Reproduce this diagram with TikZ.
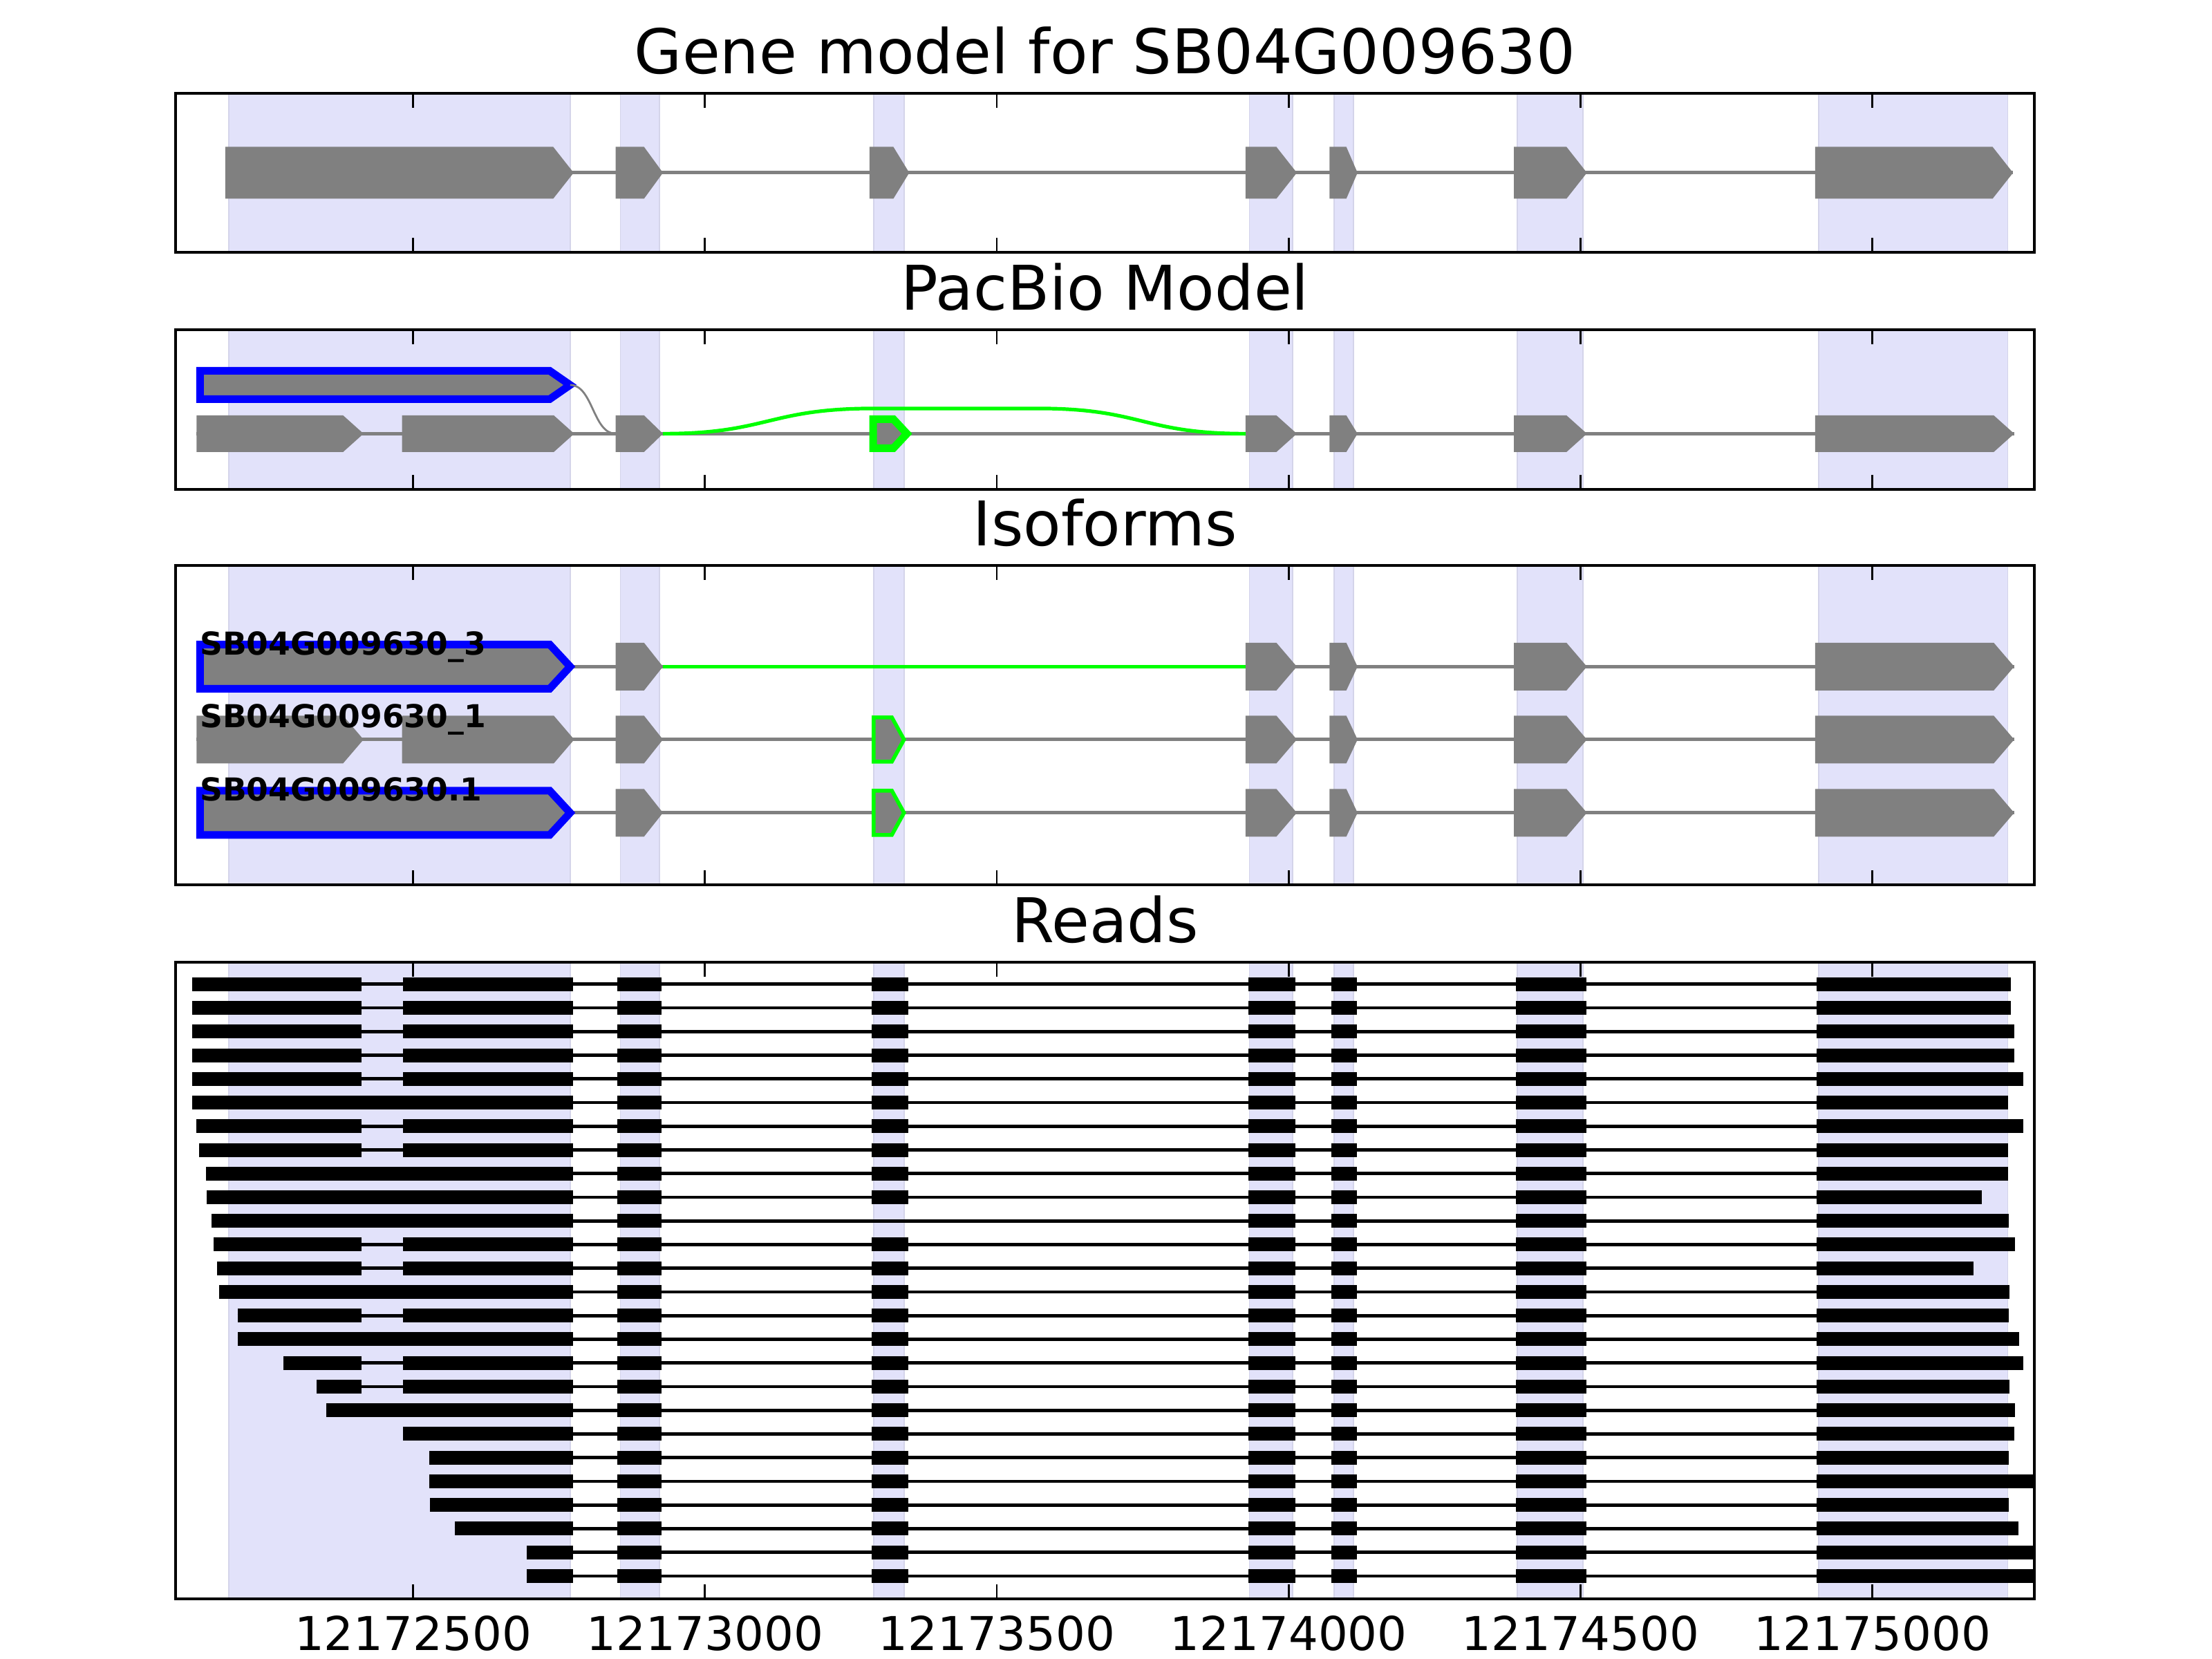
\documentclass[tikz,border=0pt]{standalone}
\usepackage{fontspec}
\setmainfont{DejaVu Sans}
\definecolor{exongrey}{RGB}{128,128,128}
\definecolor{spanfill}{RGB}{226,226,250}
\definecolor{spanedge}{RGB}{212,212,234}
\definecolor{isoblue}{RGB}{0,0,255}
\definecolor{isogreen}{RGB}{0,255,0}
% exon arrow: [style] start, tip, y centre, half height
\newcommand{\exon}[5][]{%
  \path[exonbox,#1] (#2,#4-#5) -- ({#3-min(35,0.4*(#3-#2))},#4-#5) -- (#3,#4)
    -- ({#3-min(35,0.4*(#3-#2))},#4+#5) -- (#2,#4+#5) -- cycle;}

\begin{document}
\begin{tikzpicture}[x=0.004222cm,y=-0.005cm,
  exonbox/.style={fill=exongrey},
  intron/.style={draw=exongrey, line width=0.025cm},
  vspan/.style={fill=spanfill, draw=spanedge, line width=0.008cm},
  axisframe/.style={draw=black, line width=0.02cm},
  tickmark/.style={draw=black, line width=0.014cm},
  paneltitle/.style={font=\fontsize{12.7}{15}\selectfont, anchor=base},
  ticklabel/.style={font=\fontsize{9.6}{11}\selectfont, anchor=base},
  isolabel/.style={font=\fontsize{6.5}{8}\selectfont\bfseries, anchor=base west, inner sep=0pt},
  readblock/.style={fill=black},
  readline/.style={draw=black, line width=0.024cm},
  blueedge/.style={draw=isoblue, line width=0.055cm},
  greenedge/.style={draw=isogreen, line width=0.055cm},
  thingreen/.style={draw=isogreen, line width=0.0275cm},
  junction/.style={draw=isogreen, line width=0.026cm},
]
\useasboundingbox (-207.8,0) rectangle (3581.9,2400);
% ---------------- exon spans ----------------
\foreach \top/\bot in {135/365, 477/708, 818/1280, 1392/2313}
  \foreach \a/\b in {184/769, 855/922, 1289/1341, 1933/2007, 2078/2111, 2392/2504, 2908/3232}
    \path[vspan] (\a,\top) rectangle (\b,\bot);
% ---------------- gene model ----------------
\node[paneltitle] (t1) at (1685.5,107) {Gene model for SB04G009630};
\draw[intron] (178,250) -- (3241,250);
\foreach \s/\e in {178/775, 847/928, 1282/1350, 1926/2014, 2070/2118, 2386/2511, 2902/3241}
  \exon{\s}{\e}{250}{37.5};
% ---------------- pacbio model ----------------
\node[paneltitle] (t2) at (1685.5,449) {PacBio Model};
\exon[blueedge]{135}{769}{557}{20.5}
\draw[intron, line width=0.014cm] (769,557) .. controls (808,557) and (808,627.5) .. (847,627.5);
\draw[intron] (129,627.5) -- (3243,627.5);
\foreach \s/\e in {129/415, 481/776, 847/928, 1926/2014, 2070/2118, 2386/2511, 2902/3243}
  \exon{\s}{\e}{627.5}{26.5};
\exon[greenedge]{1288}{1346}{627.5}{21}
\draw[junction] (928,627.5) .. controls (1108,627.5) and (1108,591) .. (1289,591) -- (1571,591)
  .. controls (1749,591) and (1749,627.5) .. (1926,627.5);
% ---------------- isoforms ----------------
\node[paneltitle] (t3) at (1685.5,790) {Isoforms};
\foreach \ry in {964.5,1070,1176}{
  \draw[intron] (129,\ry) -- (3243,\ry);
  \foreach \s/\e in {847/928, 1926/2014, 2070/2118, 2386/2511, 2902/3243}
    \exon{\s}{\e}{\ry}{34.5};
}
\draw[junction] (928,964.5) -- (1926,964.5);
\exon[blueedge]{135}{769}{964.5}{32}
\exon[blueedge]{135}{769}{1176}{32}
\exon{129}{415}{1070}{34.5}
\exon{481}{776}{1070}{34.5}
\exon[thingreen]{1289}{1341}{1070}{32}
\exon[thingreen]{1289}{1341}{1176}{32}
\node[isolabel] (iso3) at (133,947.5) {SB04G009630\_3};
\node[isolabel] (iso1) at (133,1053) {SB04G009630\_1};
\node[isolabel] (isoref) at (133,1159) {SB04G009630.1};
% ---------------- reads ----------------
\node[paneltitle] (t4) at (1685.5,1364) {Reads};
\begin{scope}
\clip (93,1392) rectangle (3278,2313);
\foreach \L/\R/\split/\skip [count=\i from 0] in {
    121/3237/1/0, 121/3237/1/0, 121/3243/1/0, 122/3243/1/0, 122/3259/1/0,
    122/3233/0/0, 128/3259/1/0, 133/3233/1/0, 145/3233/0/0, 146/3188/0/0,
    154/3234/0/1, 158/3244/1/0, 164/3173/1/0, 168/3235/0/0, 199/3234/1/0,
    199/3251/0/0, 278/3259/1/0, 335/3235/1/0, 351/3244/0/0, 483/3243/0/0,
    528/3234/0/0, 528/3300/0/0, 529/3234/0/0, 571/3250/0/0, 695/3300/0/0,
    695/3300/0/0}{
  \pgfmathsetmacro{\ry}{1424+34.25*\i}
  \draw[readline] (\L,\ry) -- (\R,\ry);
  \ifnum\split=1
    \fill[readblock] (\L,\ry-10) rectangle (412,\ry+10);
    \fill[readblock] (483,\ry-10) rectangle (774,\ry+10);
  \else
    \fill[readblock] (\L,\ry-10) rectangle (774,\ry+10);
  \fi
  \ifnum\skip=0 \fill[readblock] (1286,\ry-10) rectangle (1348,\ry+10); \fi
  \foreach \a/\b in {850/926, 1931/2012, 2073/2117, 2389/2510}
    \fill[readblock] (\a,\ry-10) rectangle (\b,\ry+10);
  \fill[readblock] (2904,\ry-10) rectangle (\R,\ry+10);
}
\end{scope}
% ---------------- axes ----------------
\foreach \top/\bot in {135/365, 477/708, 818/1280, 1392/2313}{
  \foreach \t in {500,1000,...,3000}{
    \draw[tickmark] (\t,\top) -- ++(0,21);
    \draw[tickmark] (\t,\bot) -- ++(0,-21);
  }
  \draw[axisframe] (93,\top) rectangle (3278,\bot);
}
\foreach \t in {500,1000,...,3000}
  \node[ticklabel] (tl\t) at (\t,2388) {\the\numexpr12172000+\t\relax};
\end{tikzpicture}
\end{document}
